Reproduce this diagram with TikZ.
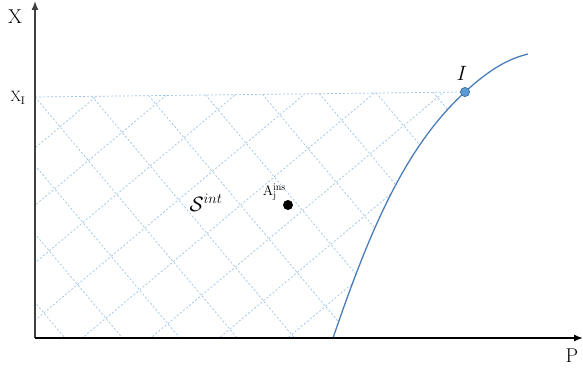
\documentclass[tikz,border=0pt]{standalone}
\usepackage{xcolor}
\definecolor{cCurve}{HTML}{4A7EBB}
\definecolor{cDot}{HTML}{5B9BD5}
\definecolor{cDotEdge}{HTML}{41719C}
\definecolor{cHatch}{HTML}{9DC3E6}
\definecolor{cAxis}{HTML}{404040}
\usepackage{tikz}
\usetikzlibrary{positioning,arrows.meta,calc}
\tikzset{
  axis-line/.style={line width=1.4pt,-{Latex[length=9pt,width=7pt]}},
  hatch-line/.style={draw=cHatch,dashed,dash pattern=on 2pt off 2pt,line width=0.7pt},
  curve-line/.style={draw=cCurve,line width=1.3pt},
  node-point/.style={circle,inner sep=0pt,minimum size=9pt,fill=cDot,draw=cDotEdge,line width=0.6pt},
  node-ins/.style={circle,inner sep=0pt,minimum size=10pt,fill=black},
  lbl/.style={inner sep=0pt},
}

\begin{document}
\begin{tikzpicture}[x=1pt,y=-1pt]
  \useasboundingbox (0,0) rectangle (583,374);
  \coordinate (O) at (35,338);
  \coordinate (Xtop) at (35,1);
  \coordinate (Pend) at (583,338);
  \coordinate (XI) at (35,97);
  \coordinate (C0) at (333,338);
  \coordinate (C1) at (528,54);
  \node[node-point] (I) at (465,92) {};
  % zone S^int : hachures clippées
  \begin{scope}
    \clip (XI) -- (I.center) .. controls (405,147) and (370,230) .. (C0) -- (O) -- cycle;
    \begin{scope}[shift={(XI)},rotate=40]
      \foreach \k in {-14,...,14} {
        \draw[hatch-line] (\k*44,-900) -- (\k*44,900);
        \draw[hatch-line] (-900,\k*44-5) -- (900,\k*44-5);
      }
    \end{scope}
  \end{scope}
  \draw[hatch-line] (XI) -- (I.center);
  % courbe
  \draw[curve-line] (C0) .. controls (370,230) and (405,147) .. (I.center)
    .. controls (490,69) and (508,59) .. (C1);
  \node[node-point] at (I) {};
  % axes
  \draw[axis-line,draw=cAxis] (O) -- (Xtop);
  \draw[axis-line] (O) -- (Pend);
  \node[lbl,font=\fontsize{20}{20}\selectfont] (Xlab) at (15,17) {X};
  \node[lbl,font=\fontsize{20}{20}\selectfont] (Plab) at (572,356) {P};
  \node[lbl,font=\fontsize{15}{15}\selectfont] (XIlab) at (18,98) {X$_{\mathrm{I}}$};
  \node[lbl,font=\fontsize{21}{21}\selectfont] (Ilab) at (462,73) {$I$};
  \node[lbl,font=\fontsize{20}{20}\selectfont] (Sint) at (206,203) {$\mathcal{S}^{int}$};
  \node[node-ins] (A) at (288,205) {};
  \node[lbl,font=\fontsize{14}{14}\selectfont,anchor=south east] (Alab) at (286,201) {A$_{\mathrm{j}}^{\mathrm{ins}}$};
\end{tikzpicture}
\end{document}
